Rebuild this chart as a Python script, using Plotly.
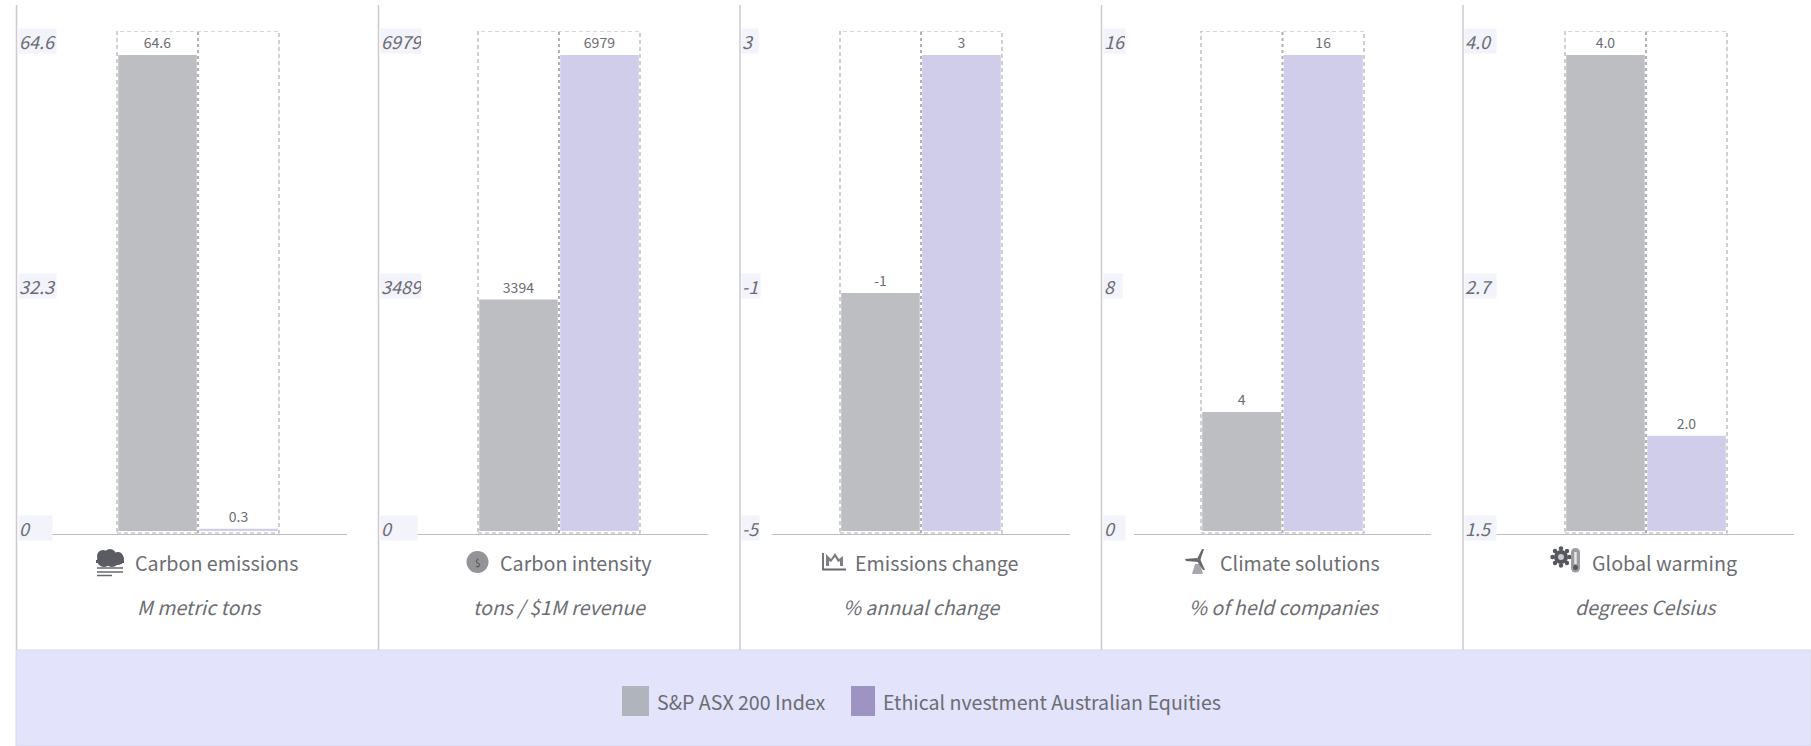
import plotly.graph_objects as go

WIDTH, HEIGHT = 1811, 746

# Metrics shown in the five panels
titles = ["Carbon emissions", "Carbon intensity", "Emissions change", "Climate solutions", "Global warming"]
units = ["M metric tons", "tons / $1M revenue", "% annual change", "% of held companies", "degrees Celsius"]
index_values = [64.6, 3394, -1, 4, 4.0]
fund_values = [0.3, 6979, 3, 16, 2.0]
index_labels = ["64.6", "3394", "-1", "4", "4.0"]
fund_labels = ["0.3", "6979", "3", "16", "2.0"]
axis_min = [0, 0, -5, 0, 1.5]
axis_max = [64.6, 6979, 3, 16, 4.0]
axis_min_labels = ["0", "0", "-5", "0", "1.5"]
axis_mid_labels = ["32.3", "3489", "-1", "8", "2.7"]
axis_max_labels = ["64.6", "6979", "3", "16", "4.0"]
series_names = ["S&P ASX 200 Index", "Ethical nvestment Australian Equities"]

# Panel geometry in page pixels
panel_left = [16.5, 378.5, 740, 1101.5, 1463]
line_start = [50, 417, 772, 1134, 1495]
line_end = [347, 708, 1070, 1431, 1794]
box_left = [117, 478, 840, 1201, 1565]
box_right = [279, 640, 1002, 1364, 1727]
title_center = [216, 575.5, 937, 1300, 1664]
unit_center = [199, 560, 922, 1284, 1646]
plate_min_w = [33, 36, 17, 21, 31]
plate_mid_w = [37, 40, 18, 18, 31]
plate_max_w = [37, 40, 16, 21, 31]
PLOT_TOP, BAR_TOP, BAR_BOTTOM, LINE_Y = 31, 55, 531, 534

FONT = "Noto Sans CJK JP"
INDEX_COLOR, FUND_COLOR = "#bdbec2", "#d0cdea"
INDEX_SWATCH, FUND_SWATCH = "#b0b5bd", "#9d94c4"
BAND_COLOR, TICK_BG = "#e3e3fb", "#f3f3fc"
TEXT = "#6b6d72"
DASH = "#b0b0b4"


def px(x):
    return x / WIDTH


def py(y):
    return 1 - y / HEIGHT


def icon_path(points, close=True):
    body = " ".join(
        ("M" if i == 0 else "L") + f"{px(a):.5f},{py(b):.5f}" for i, (a, b) in enumerate(points)
    )
    return body + (" Z" if close else "")


fig = go.Figure()
shapes, annotations = [], []

for i in range(5):
    suffix = "" if i == 0 else str(i + 1)
    lo, hi = axis_min[i], axis_max[i]
    per_px = (hi - lo) / (BAR_BOTTOM - BAR_TOP)
    y_range = [lo - (LINE_Y - BAR_BOTTOM) * per_px, hi + (BAR_TOP - PLOT_TOP) * per_px]
    unit = (box_right[i] - box_left[i]) / 2
    x_range = [
        -0.5 + (line_start[i] - box_left[i]) / unit,
        -0.5 + (line_end[i] - box_left[i]) / unit,
    ]

    for pos, values, labels, color, name in (
        (0, index_values, index_labels, INDEX_COLOR, series_names[0]),
        (1, fund_values, fund_labels, FUND_COLOR, series_names[1]),
    ):
        fig.add_trace(go.Bar(
            x=[pos], y=[values[i] - lo], base=[lo], width=[0.97],
            marker=dict(color=color, line_width=0),
            text=[labels[i]], textposition="outside", cliponaxis=False,
            textfont=dict(family=FONT, size=14, color=TEXT),
            name=name, showlegend=False, xaxis="x" + suffix, yaxis="y" + suffix,
        ))

    # Dashed outline marking the full scale of the two bar slots
    shapes.append(dict(
        type="rect", xref="x" + suffix, yref="y" + suffix,
        x0=-0.5, x1=1.5, y0=lo - 2 * per_px, y1=y_range[1],
        line=dict(color=DASH, width=1.2, dash="4px,3px"), layer="above",
    ))
    shapes.append(dict(
        type="line", xref="x" + suffix, yref="y" + suffix,
        x0=0.5, x1=0.5, y0=lo - 2 * per_px, y1=y_range[1],
        line=dict(color=DASH, width=2, dash="3px,3px"), layer="above",
    ))

    fig.update_layout({
        "xaxis" + suffix: dict(
            domain=[px(line_start[i]), px(line_end[i])], range=x_range, anchor="y" + suffix,
            showgrid=False, zeroline=False, showticklabels=False, ticks="",
            showline=True, linecolor="#bcbcc2", linewidth=1,
        ),
        "yaxis" + suffix: dict(
            domain=[py(LINE_Y), py(PLOT_TOP)], range=y_range, anchor="x" + suffix,
            showgrid=False, zeroline=False, showticklabels=False, ticks="", showline=False,
        ),
    })

    # Panel separator
    shapes.append(dict(
        type="line", xref="paper", yref="paper", x0=px(panel_left[i]), x1=px(panel_left[i]),
        y0=py(650), y1=py(5), line=dict(color="#cbcbce", width=1.5),
    ))

    # Italic scale labels on their tinted plates; the middle one sits halfway up the axis
    for text, val, shift, w in (
        (axis_max_labels[i], hi, 14, plate_max_w[i]),
        (axis_mid_labels[i], (lo + hi) / 2, 7, plate_mid_w[i]),
        (axis_min_labels[i], lo, 3, plate_min_w[i]),
    ):
        annotations.append(dict(
            xref="paper", yref="y" + suffix, x=px(panel_left[i] + 1), y=val, yshift=shift,
            xanchor="left", yanchor="middle", text=text, showarrow=False, align="left",
            width=w, height=24, bgcolor=TICK_BG, borderpad=0,
            font=dict(family=FONT, size=18, color=TEXT, style="italic"),
        ))

    annotations.append(dict(
        xref="paper", yref="paper", x=px(title_center[i]), y=py(562), xanchor="center", yanchor="middle",
        text=titles[i], showarrow=False, font=dict(family=FONT, size=19.7, color=TEXT),
    ))
    annotations.append(dict(
        xref="paper", yref="paper", x=px(unit_center[i]), y=py(606), xanchor="center", yanchor="middle",
        text=units[i], showarrow=False, font=dict(family=FONT, size=19.5, color=TEXT, style="italic"),
    ))

# Legend band and its keys
shapes.insert(0, dict(
    type="rect", xref="paper", yref="paper", x0=px(16), x1=1, y0=0, y1=py(650),
    fillcolor=BAND_COLOR, line=dict(color="#d8d8ea", width=1), layer="below",
))
for x0, x1, color in ((622, 649, INDEX_SWATCH), (851, 875, FUND_SWATCH)):
    shapes.append(dict(
        type="rect", xref="paper", yref="paper", x0=px(x0), x1=px(x1), y0=py(716), y1=py(686),
        fillcolor=color, line_width=0,
    ))
for x, name in ((654.5, series_names[0]), (880.5, series_names[1])):
    annotations.append(dict(
        xref="paper", yref="paper", x=px(x), y=py(701), xanchor="left", yanchor="middle",
        text=name, showarrow=False, font=dict(family=FONT, size=19.6, color=TEXT),
    ))

# Small pictograms beside the panel titles
ICON = "#66686d"


def solid(points, color=ICON):
    shapes.append(dict(
        type="path", xref="paper", yref="paper", path=icon_path(points),
        fillcolor=color, line_width=0,
    ))


def stroke(points, width=1.5, color=ICON):
    shapes.append(dict(
        type="path", xref="paper", yref="paper", path=icon_path(points, close=False),
        line=dict(color=color, width=width),
    ))


def dot(cx, cy, r, color=ICON):
    shapes.append(dict(
        type="circle", xref="paper", yref="paper",
        x0=px(cx - r), x1=px(cx + r), y0=py(cy + r), y1=py(cy - r),
        fillcolor=color, line_width=0,
    ))


# Cloud over haze
for cx, cy, r in ((103, 556, 6), (110, 555, 6), (118, 557, 5), (118, 559, 6), (104, 560, 7), (112, 560, 7)):
    dot(cx, cy, r, "#5a5c62")
solid([(96, 560), (124, 560), (124, 563), (96, 563)], "#5a5c62")
stroke([(97, 568), (123, 568)], 1.5)
stroke([(97, 572), (123, 572)], 1.5)
stroke([(97, 575.5), (112, 575.5)], 1.5)

# Dollar badge
dot(477.5, 562, 11, "#939498")
annotations.append(dict(
    xref="paper", yref="paper", x=px(477.5), y=py(562), xanchor="center", yanchor="middle",
    text="$", showarrow=False, font=dict(family=FONT, size=10, color="#4f5054"),
))

# Framed falling line chart
stroke([(823, 553), (823, 569.5), (846, 569.5)], 1.8)
solid([(826, 566), (826, 554), (831, 559), (835, 553), (839, 559), (843, 556), (843, 566)], "#7d7f84")
solid([(829, 561), (831, 562), (835, 557), (838, 562), (840, 561), (840, 566), (829, 566)], "#ffffff")

# Wind turbine
solid([(1192, 574), (1195, 564), (1200, 564), (1203, 574)], "#a6a8ac")
solid([(1185, 559), (1197, 558), (1199, 562), (1186, 561)])
solid([(1197, 559), (1202, 549), (1204, 549), (1200, 561)])
solid([(1197, 561), (1200, 559), (1205, 570), (1203, 570)])

# Gear and thermometer
for ax, ay in ((0, -8.5), (6, -6), (8.5, 0), (6, 6), (0, 8.5), (-6, 6), (-8.5, 0), (-6, -6)):
    dot(1561 + ax, 557 + ay, 2.2, "#55575c")
dot(1561, 557, 7, "#55575c")
dot(1561, 557, 3, "#c9cacd")
dot(1575.5, 552.5, 4.5, "#9a9ca0")
solid([(1571, 552), (1580, 552), (1580, 568), (1571, 568)], "#9a9ca0")
dot(1575.5, 568, 4.5, "#9a9ca0")
solid([(1574.3, 552), (1576.7, 552), (1576.7, 564), (1574.3, 564)], "#e8e8ea")
dot(1575.5, 567.5, 2.5, "#55575c")

fig.update_layout(
    width=WIDTH, height=HEIGHT, autosize=False,
    margin=dict(l=0, r=0, t=0, b=0, pad=0),
    paper_bgcolor="#ffffff", plot_bgcolor="rgba(0,0,0,0)",
    barmode="overlay", showlegend=False,
    shapes=shapes, annotations=annotations,
    font=dict(family=FONT, color=TEXT),
)

fig.write_html("out.html", config={"displayModeBar": False})
